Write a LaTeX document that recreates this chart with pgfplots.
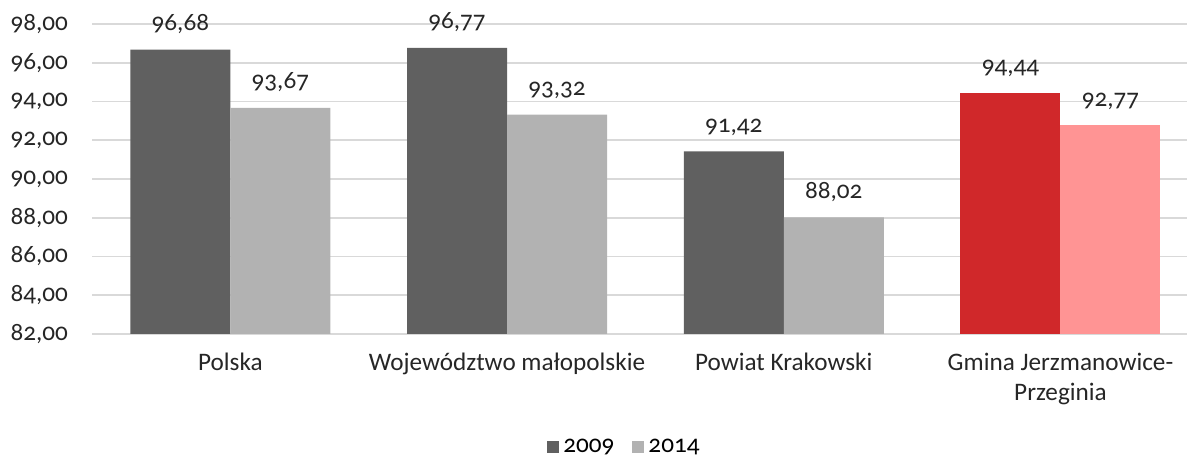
\documentclass[border=0pt]{standalone}
\usepackage{fontspec}
\setmainfont{Carlito}[Numbers=OldStyle]
\usepackage{pgfplots}
\pgfplotsset{compat=1.18}

\definecolor{c2009}{HTML}{606060}
\definecolor{c2014}{HTML}{B2B2B2}
\definecolor{cred}{HTML}{D0282A}
\definecolor{cpink}{HTML}{FF9494}
\definecolor{cgrid}{HTML}{D9D9D9}

\begin{document}
\begin{tikzpicture}
    % picture frame: 1187x458 px at 0.5pt per px, plot area corner at (0,0)
    \useasboundingbox (-46pt,-62pt) rectangle (547.5pt,167pt);
    \begin{axis}[
        scale only axis,
        width=553.4pt, height=155pt,
        at={(0,0)}, anchor=south west,
        xmin=-0.5, xmax=3.5,
        ymin=82, ymax=98,
        ytick={82,84,...,98},
        xtick={0,1,2,3},
        xticklabels={Polska, Województwo małopolskie, Powiat Krakowski,
            {Gmina Jerzmanowice-\\Przeginia}},
        font=\fontsize{12.6}{15}\selectfont,
        xticklabel style={align=center, yshift=-6pt, text=black!85},
        yticklabel style={xshift=-8.5pt, text=black!85},
        /pgf/number format/.cd, use comma, fixed, fixed zerofill, precision=2,
            assume math mode=true,
        /pgfplots/.cd,
        major tick length=0pt,
        axis line style={draw=none},
        ymajorgrids,
        major grid style={cgrid, line width=0.8pt},
        ybar=0pt, bar width=50pt,
        nodes near coords,
        nodes near coords style={anchor=south, yshift=4.5pt, text=black!85},
        legend columns=2,
        legend style={at={(0.482,-0.365)}, anchor=center, draw=none,
            font=\fontsize{12.6}{15}\selectfont,
            /tikz/every even column/.append style={column sep=7pt}},
        legend image code/.code={\fill[#1] (0pt,-3pt) rectangle (6pt,3pt);},
    ]
    \addplot[fill=c2009, draw=none, bar shift=-25pt]
        coordinates {(0,96.68) (1,96.77) (2,91.42)};
    \addlegendentry{2009}
    \addplot[fill=c2014, draw=none, bar shift=25pt]
        coordinates {(0,93.67) (1,93.32) (2,88.02)};
    \addlegendentry{2014}
    \addplot[fill=cred, draw=none, bar shift=-25pt, forget plot]
        coordinates {(3,94.44)};
    \addplot[fill=cpink, draw=none, bar shift=25pt, forget plot]
        coordinates {(3,92.77)};
    \end{axis}
\end{tikzpicture}
\end{document}
